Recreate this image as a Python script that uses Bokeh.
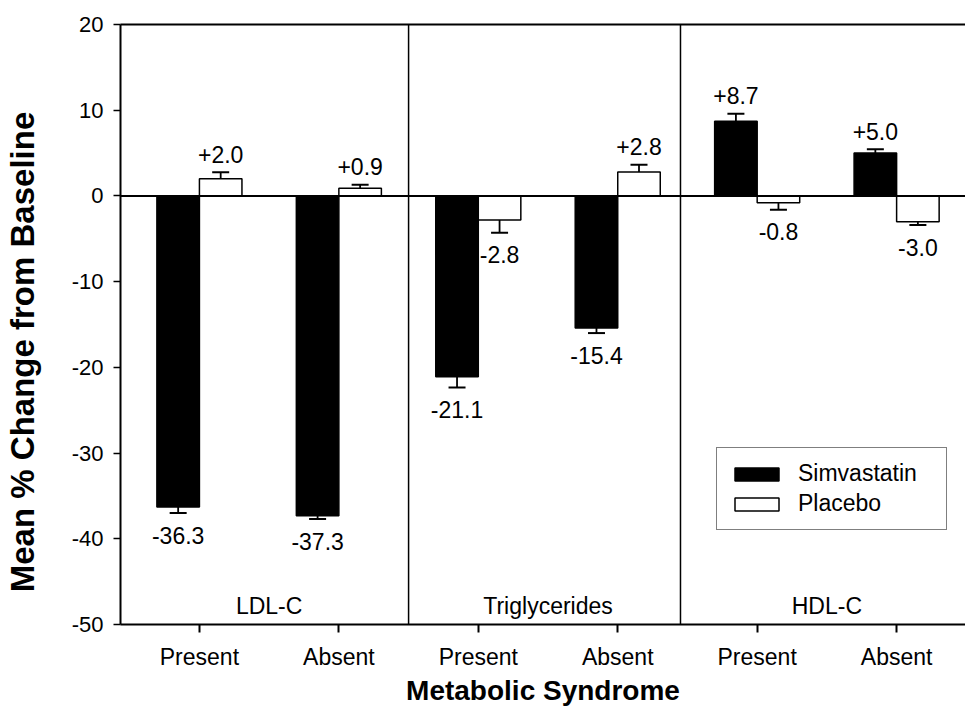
from bokeh.plotting import figure
from bokeh.models import (Range1d, FixedTicker, LinearAxis, Span, Legend, LegendItem,
                          ColumnDataSource)
from bokeh.embed import file_html
from bokeh.resources import INLINE
from bokeh.core.properties import value

# ---------------- data ----------------
groups = ["Present", "Absent", "Present", "Absent", "Present", "Absent"]
panels = ["LDL-C", "Triglycerides", "HDL-C"]
simva = [-36.3, -37.3, -21.1, -15.4, 8.7, 5.0]
simva_se = [0.7, 0.4, 1.25, 0.6, 0.9, 0.45]
placebo = [2.0, 0.9, -2.8, 2.8, -0.8, -3.0]
placebo_se = [0.75, 0.4, 1.5, 0.85, 0.8, 0.4]
y_ticks = [-50, -40, -30, -20, -10, 0, 10, 20]
series_names = ["Simvastatin", "Placebo"]

# ---------------- layout ----------------
FONT = "Liberation Sans"
pos = list(range(1, len(groups) + 1))
BW = 0.305
separators = [2.5, 4.45]

p = figure(width=965, height=716, output_backend="svg", toolbar_location=None,
           x_range=Range1d(0.434, 6.494), y_range=Range1d(-50, 20),
           min_border_left=119, min_border_right=0, min_border_top=24,
           min_border_bottom=92)
p.grid.visible = False
p.outline_line_color = None
p.background_fill_color = "white"
p.border_fill_color = "white"


def series(vals, ses, shift):
    xs = [q + shift for q in pos]
    ends = [v + (se if v >= 0 else -se) for v, se in zip(vals, ses)]
    labels = [f"{v:+.1f}" for v in vals]
    offs = [-18 if v >= 0 else 22 for v in vals]
    return ColumnDataSource(dict(x=xs, top=vals, end=ends, label=labels, off=offs))


src_s = series(simva, simva_se, -BW / 2)
src_p = series(placebo, placebo_se, BW / 2)

renderers = []
for src, fill in ((src_s, "black"), (src_p, "white")):
    r = p.vbar(x="x", top="top", bottom=0, width=BW, fill_color=fill,
               line_color="black", line_width=1.5, source=src)
    renderers.append(r)
    p.segment(x0="x", y0="top", x1="x", y1="end", line_color="black",
              line_width=1.8, source=src)
    p.scatter(x="x", y="end", marker="dash", size=17, line_color="black",
              line_width=2, source=src)
    p.text(x="x", y="end", text="label", y_offset="off", text_align="center",
           text_baseline="middle", text_font=value(FONT), text_font_size="23px",
           text_color="black", source=src)

p.add_layout(Span(location=0, dimension="width", line_color="black", line_width=2))
for s in separators:
    p.add_layout(Span(location=s, dimension="height", line_color="black", line_width=1.5))

# panel labels
panel_x = [(pos[2 * i] + pos[2 * i + 1]) / 2 for i in range(len(panels))]
p.text(x=panel_x, y=[-47.8] * len(panels), text=panels, text_align="center",
       text_baseline="middle", text_font=value(FONT), text_font_size="23px",
       text_color="black")

# axes
xa = p.xaxis[0]
xa.ticker = FixedTicker(ticks=pos)
xa.major_label_overrides = {q: g for q, g in zip(pos, groups)}
xa.axis_label = "Metabolic Syndrome"
xa.axis_label_text_font = FONT
xa.axis_label_text_font_size = "28px"
xa.axis_label_text_font_style = "bold"
xa.axis_label_text_color = "black"
xa.axis_label_standoff = 2
xa.major_label_text_font = FONT
xa.major_label_text_font_size = "23px"
xa.major_label_text_color = "black"
xa.major_label_standoff = 11
xa.major_tick_in = 0
xa.major_tick_out = 8
xa.minor_tick_line_color = None
xa.axis_line_width = 2
xa.major_tick_line_width = 2

ya = p.yaxis[0]
ya.ticker = FixedTicker(ticks=y_ticks)
ya.major_label_overrides = {t: str(t) for t in y_ticks}
ya.major_label_text_font = FONT
ya.major_label_text_font_size = "22px"
ya.major_label_text_color = "black"
ya.major_label_standoff = 10
ya.major_tick_in = 0
ya.major_tick_out = 7
ya.minor_tick_line_color = None
ya.axis_line_width = 2
ya.major_tick_line_width = 1.5
ya.axis_label = "Mean  % Change from Baseline" + "\u00a0" * 5
ya.axis_label_text_font = FONT
ya.axis_label_text_font_size = "33px"
ya.axis_label_text_font_style = "bold"
ya.axis_label_text_color = "black"
ya.axis_label_standoff = 28

top_axis = LinearAxis(ticker=FixedTicker(ticks=[]), major_tick_line_color=None,
                      minor_tick_line_color=None, major_tick_out=0, major_tick_in=0,
                      major_label_standoff=0, axis_line_width=2)
p.add_layout(top_axis, "above")

legend = Legend(items=[LegendItem(label=series_names[0], renderers=[renderers[0]]),
                       LegendItem(label=series_names[1], renderers=[renderers[1]])],
                location=(596, 94), orientation="vertical",
                border_line_color="black", border_line_width=1.5,
                label_text_font=FONT, label_text_font_size="23px",
                label_text_color="black", label_width=136,
                glyph_width=55, glyph_height=16, label_standoff=14,
                spacing=3, padding=12, margin=0, background_fill_alpha=1.0)
p.add_layout(legend, "center")

open("out.html", "w").write(file_html(p, INLINE))
